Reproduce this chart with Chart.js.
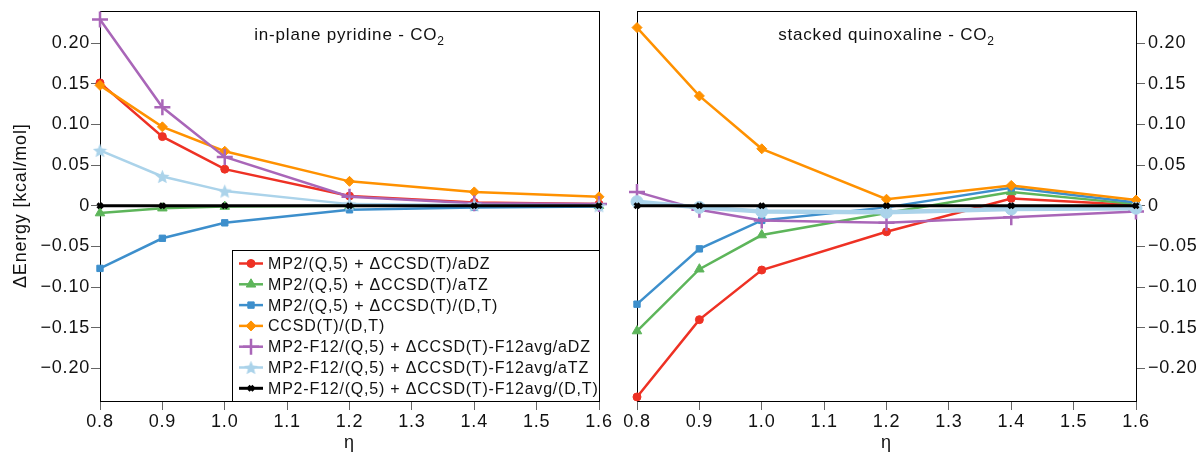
<!DOCTYPE html>
<html>
<head>
<meta charset="utf-8">
<title>CO2 interaction energy vs eta</title>
<script src="https://cdn.jsdelivr.net/npm/chart.js@4.4.0/dist/chart.umd.min.js"></script>
<style>
    body { margin: 0; background: #fff; }
    #wrap { position: relative; width: 1202px; height: 454px; }
    .panel { position: absolute; top: 0; height: 454px; }
    #leftPanel { left: 0; width: 615px; }
    #rightPanel { left: 618px; width: 584px; }
</style>
</head>
<body>
<div id="wrap">
    <div class="panel" id="leftPanel"><canvas id="pyridineChart" width="615" height="454"></canvas></div>
    <div class="panel" id="rightPanel"><canvas id="quinoxalineChart" width="584" height="454"></canvas></div>
</div>
<script>
// Scaling factor eta and axis ticks
const etaValues = [0.8, 0.9, 1.0, 1.2, 1.4, 1.6];
const etaTicks = [0.8, 0.9, 1.0, 1.1, 1.2, 1.3, 1.4, 1.5, 1.6];
const energyTicks = [-0.20, -0.15, -0.10, -0.05, 0, 0.05, 0.10, 0.15, 0.20];

const methodLabels = [
    'MP2/(Q,5) + \u0394CCSD(T)/aDZ',
    'MP2/(Q,5) + \u0394CCSD(T)/aTZ',
    'MP2/(Q,5) + \u0394CCSD(T)/(D,T)',
    'CCSD(T)/(D,T)',
    'MP2-F12/(Q,5) + \u0394CCSD(T)-F12avg/aDZ',
    'MP2-F12/(Q,5) + \u0394CCSD(T)-F12avg/aTZ',
    'MP2-F12/(Q,5) + \u0394CCSD(T)-F12avg/(D,T)'
];

// in-plane pyridine - CO2, deviation in kcal/mol
const pyrMp2aDZ     = [0.151, 0.085, 0.045, 0.012, 0.004, 0.002];
const pyrMp2aTZ     = [-0.009, -0.003, -0.001, 0.000, 0.000, 0.000];
const pyrMp2DT      = [-0.077, -0.040, -0.021, -0.005, -0.002, -0.001];
const pyrCcsdDT     = [0.148, 0.097, 0.067, 0.030, 0.017, 0.011];
const pyrF12aDZ     = [0.229, 0.121, 0.060, 0.011, 0.003, 0.002];
const pyrF12aTZ     = [0.068, 0.036, 0.018, 0.002, 0.001, 0.000];
const pyrF12DT      = [0.000, 0.000, 0.000, 0.000, 0.000, 0.000];

// stacked quinoxaline - CO2
const quiMp2aDZ     = [-0.235, -0.140, -0.079, -0.032, 0.009, 0.001];
const quiMp2aTZ     = [-0.154, -0.078, -0.036, -0.009, 0.017, 0.002];
const quiMp2DT      = [-0.121, -0.053, -0.018, -0.002, 0.022, 0.004];
const quiCcsdDT     = [0.219, 0.135, 0.070, 0.008, 0.025, 0.007];
const quiF12aDZ     = [0.017, -0.005, -0.018, -0.021, -0.014, -0.007];
const quiF12aTZ     = [0.005, -0.002, -0.007, -0.008, -0.004, -0.003];
const quiF12DT      = [0.000, 0.000, 0.000, 0.000, 0.000, 0.000];

const FONT = '"Liberation Sans", Arial, Helvetica, sans-serif';
const TEXT_COLOR = '#111';
const LETTER_SPACING = '0.8px';

// Filled five-point star used as a marker image
function makeStarMarker(color, size) {
    const c = document.createElement('canvas');
    c.width = size;
    c.height = size;
    const g = c.getContext('2d');
    const cx = size / 2, cy = size / 2 + 0.8;
    const outer = size / 2, inner = outer * 0.45;
    g.beginPath();
    for (let k = 0; k < 10; k++) {
        const r = k % 2 === 0 ? outer : inner;
        const ang = -Math.PI / 2 + k * Math.PI / 5;
        const px = cx + r * Math.cos(ang), py = cy + r * Math.sin(ang);
        if (k === 0) g.moveTo(px, py); else g.lineTo(px, py);
    }
    g.closePath();
    g.fillStyle = color;
    g.fill();
    return c;
}

const starMarker = makeStarMarker('#abd3ea', 15);

// One style per method, same order as methodLabels
const SERIES_STYLES = [
    { color: '#ee3124', pointStyle: 'circle',    radius: 4,   width: 2.5, pointBorder: 1 },
    { color: '#5db55a', pointStyle: 'triangle',  radius: 5.5, width: 2.5, pointBorder: 1 },
    { color: '#3d8fcc', pointStyle: 'rect',      radius: 4.5, width: 2.5, pointBorder: 1 },
    { color: '#ff9100', pointStyle: 'rectRot',   radius: 5,   width: 2.5, pointBorder: 1 },
    { color: '#a966b8', pointStyle: 'cross',     radius: 8,   width: 2.5, pointBorder: 2.5 },
    { color: '#abd3ea', pointStyle: starMarker,  radius: 7,   width: 2.5, pointBorder: 1 },
    { color: '#000000', pointStyle: 'crossRot',  radius: 3.5, width: 3,   pointBorder: 3 }
];

function toPoints(values) {
    return etaValues.map((eta, i) => ({ x: eta, y: values[i] }));
}

function formatEnergy(v) {
    if (Math.abs(v) < 1e-9) return '0';
    return (v < 0 ? '\u2212' : '') + Math.abs(v).toFixed(2);
}

function buildDatasets(seriesList, overrides) {
    const n = seriesList.length;
    return seriesList.map((values, i) => {
        const s = Object.assign({}, SERIES_STYLES[i], (overrides && overrides[i]) || {});
        return {
            label: methodLabels[i],
            data: toPoints(values),
            borderColor: s.color,
            backgroundColor: s.color,
            borderWidth: s.width,
            pointStyle: s.pointStyle,
            pointRadius: s.radius,
            pointHoverRadius: s.radius,
            pointBorderWidth: s.pointBorder,
            pointBorderColor: s.color,
            pointBackgroundColor: s.color,
            tension: 0,
            clip: false,
            order: n - 1 - i
        };
    });
}

// Frame around the plot area plus panel heading with subscript
const framePlugin = {
    id: 'frame',
    beforeInit(chart) {
        chart.ctx.letterSpacing = LETTER_SPACING;
    },
    beforeDraw(chart) {
        chart.ctx.letterSpacing = LETTER_SPACING;
    },
    beforeDatasetsDraw(chart) {
        const a = chart.chartArea;
        const ctx = chart.ctx;
        const l = Math.round(a.left) + 0.5, t = Math.round(a.top) + 0.5;
        const r = Math.round(a.right) + 0.5, b = Math.round(a.bottom) + 0.5;
        ctx.save();
        ctx.strokeStyle = '#000';
        ctx.lineWidth = 1;
        ctx.strokeRect(l, t, r - l, b - t);
        ctx.restore();
    },
    afterDraw(chart, args, opts) {
        const a = chart.chartArea;
        const ctx = chart.ctx;
        ctx.save();
        ctx.fillStyle = TEXT_COLOR;
        ctx.textBaseline = 'alphabetic';
        ctx.textAlign = 'left';
        ctx.font = '17px ' + FONT;
        const mainW = ctx.measureText(opts.heading).width;
        ctx.font = '12px ' + FONT;
        const subW = ctx.measureText('2').width;
        const x0 = (a.left + a.right) / 2 - (mainW + subW) / 2;
        ctx.font = '17px ' + FONT;
        ctx.fillText(opts.heading, x0, 40);
        ctx.font = '12px ' + FONT;
        ctx.fillText('2', x0 + mainW, 45);
        ctx.restore();
    }
};

// Boxed legend in the lower right corner of the left panel
const boxLegendPlugin = {
    id: 'boxLegend',
    afterDraw(chart) {
        const a = chart.chartArea;
        const ctx = chart.ctx;
        const boxLeft = 232.5, boxTop = 250.5;
        const boxRight = Math.round(a.right) + 0.5, boxBottom = Math.round(a.bottom) + 0.5;
        ctx.save();
        ctx.fillStyle = '#fff';
        ctx.fillRect(boxLeft, boxTop, boxRight - boxLeft, boxBottom - boxTop);
        ctx.strokeStyle = '#000';
        ctx.lineWidth = 1;
        ctx.strokeRect(boxLeft, boxTop, boxRight - boxLeft, boxBottom - boxTop);
        ctx.font = '16px ' + FONT;
        ctx.textBaseline = 'middle';
        ctx.textAlign = 'left';
        chart.data.datasets.forEach((ds, i) => {
            const y = 263.5 + i * 20.8;
            ctx.strokeStyle = ds.borderColor;
            ctx.lineWidth = ds.borderWidth;
            ctx.beginPath();
            ctx.moveTo(239, y);
            ctx.lineTo(263, y);
            ctx.stroke();
            ctx.fillStyle = ds.pointBackgroundColor;
            ctx.lineWidth = ds.pointBorderWidth;
            Chart.helpers.drawPoint(ctx, {
                pointStyle: ds.pointStyle,
                radius: ds.pointRadius,
                rotation: 0,
                borderWidth: ds.pointBorderWidth
            }, 251, y);
            ctx.fillStyle = TEXT_COLOR;
            ctx.fillText(ds.label, 268, y + 1);
        });
        ctx.restore();
    }
};

function baseOptions(heading, yPosition, padding, yWidth, showYTitle) {
    return {
        responsive: false,
        animation: false,
        events: [],
        layout: { padding: padding },
        plugins: {
            legend: { display: false },
            tooltip: { enabled: false },
            frame: { heading: heading }
        },
        scales: {
            x: {
                type: 'linear',
                min: 0.8,
                max: 1.6,
                afterBuildTicks: (scale) => { scale.ticks = etaTicks.map(v => ({ value: v })); },
                afterFit: (scale) => {
                    scale.height = 53;
                    scale.paddingLeft = 0;
                    scale.paddingRight = 0;
                },
                ticks: {
                    color: TEXT_COLOR,
                    font: { family: FONT, size: 18 },
                    padding: 1,
                    maxRotation: 0,
                    callback: (v) => Number(v).toFixed(1)
                },
                grid: { drawOnChartArea: false, tickLength: 9, color: '#666', lineWidth: 1 },
                border: { display: false },
                title: {
                    display: true,
                    text: '\u03b7',
                    color: TEXT_COLOR,
                    font: { family: FONT, size: 18 },
                    padding: { top: 0, bottom: 0 }
                }
            },
            y: {
                type: 'linear',
                position: yPosition,
                min: -0.24,
                max: 0.24,
                afterBuildTicks: (scale) => { scale.ticks = energyTicks.map(v => ({ value: v })); },
                afterFit: (scale) => {
                    scale.width = yWidth;
                    scale.paddingTop = 0;
                    scale.paddingBottom = 0;
                },
                ticks: {
                    color: TEXT_COLOR,
                    font: { family: FONT, size: 18 },
                    padding: yPosition === 'left' ? 1 : 3,
                    callback: (v) => formatEnergy(v)
                },
                grid: { drawOnChartArea: false, tickLength: 9, color: '#666', lineWidth: 1 },
                border: { display: false },
                title: {
                    display: showYTitle,
                    text: '\u0394Energy [kcal/mol]',
                    color: TEXT_COLOR,
                    font: { family: FONT, size: 18 },
                    padding: { top: 10, bottom: 0 }
                }
            }
        }
    };
}

function createPyridineChart(canvasId) {
    const ctx = document.getElementById(canvasId);
    if (!ctx) return null;
    return new Chart(ctx, {
        type: 'line',
        data: {
            datasets: buildDatasets([pyrMp2aDZ, pyrMp2aTZ, pyrMp2DT, pyrCcsdDT, pyrF12aDZ, pyrF12aTZ, pyrF12DT])
        },
        options: baseOptions('in-plane pyridine - CO', 'left', { top: 10, right: 16, bottom: 0, left: 0 }, 100, true),
        plugins: [framePlugin, boxLegendPlugin]
    });
}

function createQuinoxalineChart(canvasId) {
    const ctx = document.getElementById(canvasId);
    if (!ctx) return null;
    // thicker light-blue trace with round markers in this panel
    const overrides = { 5: { pointStyle: 'circle', radius: 6, width: 4.5, pointBorder: 1 } };
    return new Chart(ctx, {
        type: 'line',
        data: {
            datasets: buildDatasets([quiMp2aDZ, quiMp2aTZ, quiMp2DT, quiCcsdDT, quiF12aDZ, quiF12aTZ, quiF12DT], overrides)
        },
        options: baseOptions('stacked quinoxaline - CO', 'right', { top: 10, right: 0, bottom: 0, left: 19 }, 66, false),
        plugins: [framePlugin]
    });
}

createPyridineChart('pyridineChart');
createQuinoxalineChart('quinoxalineChart');
</script>
</body>
</html>
